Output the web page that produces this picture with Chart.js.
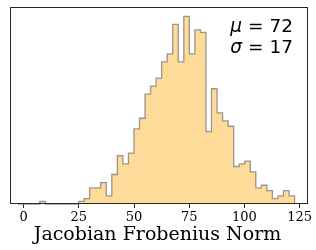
<!DOCTYPE html>
<html>
<head>
<meta charset="utf-8">
<script src="https://cdn.jsdelivr.net/npm/chart.js@4"></script>
<style>
  html, body { margin: 0; padding: 0; background: #fff; }
  #wrap { width: 316px; height: 250px; }
</style>
</head>
<body>
<div id="wrap"><canvas id="histChart"></canvas></div>
<script>
// 50-bin histogram of Jacobian Frobenius norms
const binStart = -2.73;
const binWidth = 2.509;
const counts = [
  0, 0, 0, 0, 1, 0, 0, 0, 0, 0,
  0, 1, 2, 6, 6, 8, 3, 11, 18, 15,
  19, 28, 32, 41, 44, 47, 53, 56, 67, 53,
  70, 56, 65, 64, 27, 43, 34, 31, 29, 14,
  15, 16, 12, 6, 7, 5, 2, 3, 5, 3
];
const xTicks = [0, 25, 50, 75, 100, 125];
const xLabel = "Jacobian Frobenius Norm";
const statSymbols = ["μ", "σ"];
const statValues = ["72", "17"];

// outline points at the bin edges, closed back to zero after the last bin
const steps = counts.map((c, i) => ({ x: binStart + i * binWidth, y: c }));
steps.push({ x: binStart + counts.length * binWidth, y: 0 });

const framePlugin = {
  id: "frame",
  afterDatasetsDraw(chart) {
    const { ctx, chartArea: a } = chart;
    ctx.save();
    ctx.strokeStyle = "#262626";
    ctx.lineWidth = 1;
    ctx.strokeRect(a.left + 0.5, a.top + 0.5, a.right - a.left - 1, a.bottom - a.top - 1);

    // mean / std text, right aligned, math style spacing round "="
    const right = a.right - 15;
    ctx.fillStyle = "#000";
    ctx.textBaseline = "alphabetic";
    statSymbols.forEach((sym, i) => {
      const y = a.top + 24.5 + i * 21;
      ctx.font = "18.5px 'DejaVu Sans'";
      ctx.textAlign = "right";
      ctx.fillText(statValues[i], right, y);
      const wVal = ctx.measureText(statValues[i]).width;
      const eqRight = right - wVal - 6;
      ctx.fillText("=", eqRight, y);
      const wEq = ctx.measureText("=").width;
      ctx.font = "italic 18.5px 'DejaVu Sans'";
      ctx.fillText(sym, eqRight - wEq - 6, y);
    });

    // axis label under the tick labels
    ctx.font = "19px 'DejaVu Serif'";
    ctx.textAlign = "center";
    ctx.fillText(xLabel, (a.left + a.right) / 2 - 1.5, 239.5);
    ctx.restore();
  }
};

new Chart(document.getElementById("histChart"), {
  type: "line",
  data: {
    datasets: [{
      data: steps,
      stepped: "before",
      fill: "origin",
      backgroundColor: "rgb(255, 219, 153)",
      borderColor: "rgba(128, 128, 128, 0.8)",
      borderWidth: 1.3,
      pointRadius: 0,
      tension: 0,
      clip: false
    }]
  },
  options: {
    responsive: true,
    maintainAspectRatio: false,
    animation: false,
    events: [],
    layout: { padding: { left: 10, right: 8, top: 7, bottom: 22.4 } },
    plugins: {
      legend: { display: false },
      tooltip: { enabled: false }
    },
    scales: {
      x: {
        type: "linear",
        min: -6.2,
        max: 128.8,
        afterBuildTicks: (scale) => { scale.ticks = xTicks.map(v => ({ value: v })); },
        ticks: {
          color: "#000",
          font: { family: "'DejaVu Serif'", size: 13 },
          padding: 2,
          maxRotation: 0,
          autoSkip: false
        },
        grid: { drawOnChartArea: false, tickLength: 4, tickColor: "#262626", tickWidth: 1 },
        border: { display: false }
      },
      y: {
        display: false,
        min: 0,
        max: Math.max(...counts) * 1.05
      }
    }
  },
  plugins: [framePlugin]
});
</script>
</body>
</html>
